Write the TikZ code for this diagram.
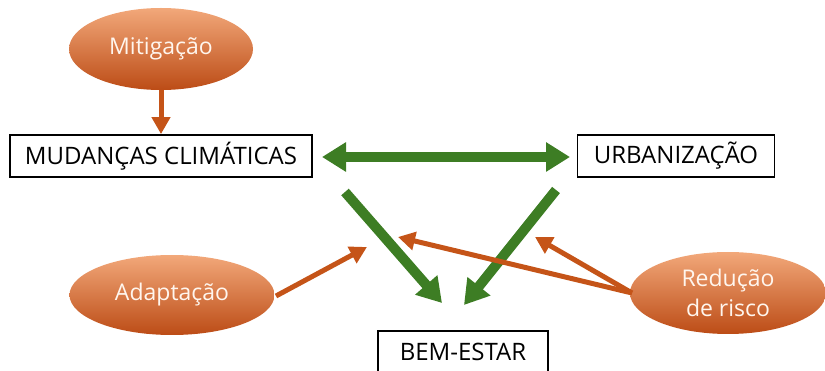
\documentclass[tikz,border=0pt]{standalone}
\usepackage{fontspec}
\setmainfont{Open Sans}
\usetikzlibrary{shapes.geometric,arrows.meta}
\definecolor{grn}{RGB}{61,125,36}
\definecolor{org}{RGB}{197,84,24}
\definecolor{otop}{RGB}{242,168,122}
\definecolor{omid}{RGB}{232,118,55}
\definecolor{obot}{RGB}{188,76,22}
\definecolor{otext}{RGB}{255,246,238}
\tikzset{
  oval/.style={ellipse, inner sep=0pt, top color=otop, middle color=omid, bottom color=obot, text=otext, font=\fontsize{23}{30}\selectfont, align=center},
  boxnode/.style={draw=black, line width=1.8pt, fill=white, inner sep=0pt, font=\fontsize{24}{28}\selectfont},
  garrow/.style={draw=grn, line width=10pt, -{Triangle[width=28pt,length=24pt]}},
  gdouble/.style={draw=grn, line width=10pt, {Triangle[width=28pt,length=24pt]}-{Triangle[width=28pt,length=24pt]}},
  oarrow/.style={draw=org, line width=5pt, -{Triangle[width=18pt,length=17pt]}}
}
\begin{document}
\begin{tikzpicture}[x=1pt,y=-1pt]
\useasboundingbox (0,0) rectangle (825,371);
\node[oval, minimum width=184pt, minimum height=82pt] (mit) at (161,49) {Mitiga\c{c}\~ao};
\node[oval, minimum width=205pt, minimum height=80pt] (ada) at (172,295) {Adapta\c{c}\~ao};
\node[oval, minimum width=196pt, minimum height=82pt] (red) at (728,293) {Redu\c{c}\~ao\\de risco};
\node[boxnode, minimum width=302pt, minimum height=42pt] (mud) at (161,156) {MUDAN\c{C}AS CLIM\'ATICAS};
\node[boxnode, minimum width=197pt, minimum height=42pt] (urb) at (676,156) {URBANIZA\c{C}\~AO};
\node[boxnode, minimum width=170pt, minimum height=42pt] (bem) at (463,352) {BEM-ESTAR};
\coordinate (dl) at (322,157);
\coordinate (dr) at (570,157);
\coordinate (l1) at (345,192);
\coordinate (l2) at (442,303);
\coordinate (r1) at (556,190);
\coordinate (r2) at (464,305);
\coordinate (a1) at (276,296);
\coordinate (a2) at (367,247);
\coordinate (rs) at (632,293);
\coordinate (t1) at (398,237);
\coordinate (t2) at (535,237);
\draw[gdouble] (dl) -- (dr);
\draw[garrow] (l1) -- (l2);
\draw[garrow] (r1) -- (r2);
\draw[oarrow] (mit.south) -- (mud.north);
\draw[oarrow] (a1) -- (a2);
\draw[oarrow] (rs) -- (t1);
\draw[oarrow] (rs) -- (t2);
\end{tikzpicture}
\end{document}
